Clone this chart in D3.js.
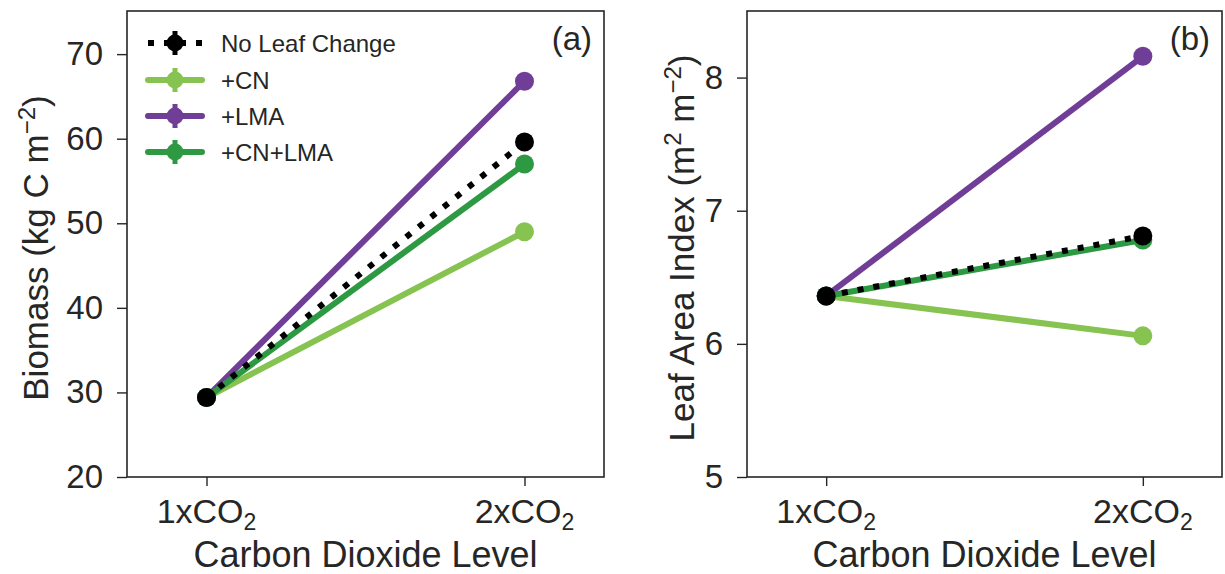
<!DOCTYPE html>
<html lang="en">
<head>
<meta charset="UTF-8">
<title>Biomass and LAI vs CO2</title>
<script src="https://d3js.org/d3.v7.min.js"></script>
<style>
  body { margin: 0; background: #fff; }
  text { font-family: "Liberation Sans", Arial, sans-serif; fill: #262626; }
  .domain, .tick line { stroke: #262626; }
</style>
</head>
<body>
<svg id="chart" width="1225" height="574"></svg>
<script>
// categories and series values
const levels = ["1xCO2", "2xCO2"];
const seriesNames = ["No Leaf Change", "+CN", "+LMA", "+CN+LMA"];
const seriesColors = ["#000000", "#86c350", "#703d97", "#2e9943"];
const biomass = {
  "No Leaf Change": [29.4, 59.6],
  "+CN": [29.4, 49.0],
  "+LMA": [29.4, 66.8],
  "+CN+LMA": [29.4, 57.0]
};
const lai = {
  "No Leaf Change": [6.36, 6.81],
  "+CN": [6.36, 6.06],
  "+LMA": [6.36, 8.16],
  "+CN+LMA": [6.36, 6.78]
};
const biomassTicks = [20, 30, 40, 50, 60, 70];
const laiTicks = [5, 6, 7, 8];

const svg = d3.select("#chart");
const plotTop = 11, plotBottom = 477;

// draw order: coloured series first, reference on top
const drawOrder = ["+CN", "+LMA", "+CN+LMA", "No Leaf Change"];

function panel(left, right, domain, ticks, data, tag, labelOffset, ylabel) {
  const x = d3.scaleLinear().domain([-0.25, 1.25]).range([left, right]);
  const y = d3.scaleLinear().domain(domain).range([plotBottom, plotTop]);
  const g = svg.append("g");

  g.append("rect")
      .attr("x", left).attr("y", plotTop)
      .attr("width", right - left).attr("height", plotBottom - plotTop)
      .attr("fill", "none").attr("stroke", "#262626").attr("stroke-width", 1.6);

  const yAxis = g.append("g")
      .attr("transform", `translate(${left},0)`)
      .call(d3.axisLeft(y).tickValues(ticks).tickSize(10).tickPadding(14).tickFormat(d3.format("d")));
  yAxis.select(".domain").remove();
  yAxis.selectAll("text").style("font-size", "33px").attr("fill", "#262626");
  yAxis.selectAll(".tick line").attr("stroke-width", 1.4);

  const xAxis = g.append("g")
      .attr("transform", `translate(0,${plotBottom})`)
      .call(d3.axisBottom(x).tickValues([0, 1]).tickSize(9).tickFormat(""));
  xAxis.select(".domain").remove();
  xAxis.selectAll(".tick line").attr("stroke-width", 1.4);

  levels.forEach((lv, i) => {
    const t = g.append("text")
        .attr("x", x(i)).attr("y", 523)
        .attr("text-anchor", "middle")
        .style("font-size", "34px");
    t.append("tspan").text(lv.slice(0, 4));
    t.append("tspan").attr("dy", 7).style("font-size", "23px").text(lv.slice(4));
  });

  g.append("text")
      .attr("x", (left + right) / 2).attr("y", 567)
      .attr("text-anchor", "middle")
      .style("font-size", "36px")
      .text("Carbon Dioxide Level");

  const yl = g.append("text")
      .attr("transform", `translate(${left - labelOffset},${(plotTop + plotBottom) / 2 + 4}) rotate(-90)`)
      .attr("text-anchor", "middle")
      .style("font-size", "35px");
  ylabel(yl);

  g.append("text")
      .attr("x", right - 12).attr("y", 50)
      .attr("text-anchor", "end")
      .style("font-size", "33px")
      .text(tag);

  const line = d3.line().x((d, i) => x(i)).y(d => y(d));
  drawOrder.forEach(name => {
    const c = seriesColors[seriesNames.indexOf(name)];
    const vals = data[name];
    g.append("path")
        .datum(vals)
        .attr("d", line)
        .attr("fill", "none")
        .attr("stroke", c)
        .attr("stroke-width", 6)
        .attr("stroke-dasharray", name === "No Leaf Change" ? "6,10" : null);
    g.selectAll(null).data(vals).enter().append("circle")
        .attr("cx", (d, i) => x(i)).attr("cy", d => y(d))
        .attr("r", 9.5).attr("fill", c);
  });
  return g;
}

panel(127, 604, [20, 75.1], biomassTicks, biomass, "(a)", 79, t => {
  t.append("tspan").text("Biomass (kg C m");
  t.append("tspan").attr("dy", -13).style("font-size", "24px").text("\u22122");
  t.append("tspan").attr("dy", 13).text(")");
});

panel(747, 1222, [5, 8.5], laiTicks, lai, "(b)", 53, t => {
  t.append("tspan").text("Leaf Area Index (m");
  t.append("tspan").attr("dy", -13).style("font-size", "24px").text("2");
  t.append("tspan").attr("dy", 13).text(" m");
  t.append("tspan").attr("dy", -13).style("font-size", "24px").text("\u22122");
  t.append("tspan").attr("dy", 13).text(")");
});

// legend in panel (a)
const legend = svg.append("g");
const rowY = [43, 80, 116, 152];
seriesNames.forEach((name, i) => {
  const c = seriesColors[i];
  const yy = rowY[i];
  legend.append("line")
      .attr("x1", 148).attr("x2", 202).attr("y1", yy).attr("y2", yy)
      .attr("stroke", c).attr("stroke-width", 6)
      .attr("stroke-linecap", i === 0 ? "butt" : "round")
      .attr("stroke-dasharray", i === 0 ? "6,10" : null);
  legend.append("line")
      .attr("x1", 175).attr("x2", 175).attr("y1", yy - 12).attr("y2", yy + 12)
      .attr("stroke", c).attr("stroke-width", 5);
  legend.append("circle")
      .attr("cx", 175).attr("cy", yy).attr("r", 8.5).attr("fill", c);
  legend.append("text")
      .attr("x", 221).attr("y", yy + 8.5)
      .style("font-size", "24px")
      .text(name);
});
</script>
</body>
</html>
